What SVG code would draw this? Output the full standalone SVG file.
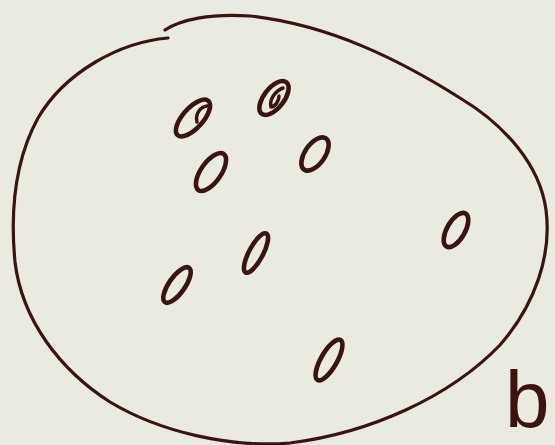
<svg xmlns="http://www.w3.org/2000/svg" width="555" height="445" viewBox="0 0 555 445">
<style>
.ln{fill:none;stroke:#3a1411;stroke-linecap:round;stroke-linejoin:round}
.big{stroke-width:3.2}
.dot{stroke-width:4.6}
.lbl{font-family:"Liberation Sans",Arial,sans-serif;font-size:80px;fill:#3a1411}
</style>
<rect x="0" y="0" width="555" height="445" fill="#ebeae1"/>
<g id="set">
<path class="ln big" d="M168,38 C120,42 65,72 38,118 C15,160 10,210 15,262 C22,320 60,370 110,402 C160,432 230,448 290,443 C370,433 450,397 500,345 C535,305 552,255 546,210 C540,165 505,125 460,98 C400,60 330,25 250,16 C210,13 180,20 165,30"/>
</g>
<g id="e1"><ellipse class="ln dot" cx="193" cy="118" rx="10" ry="23" transform="rotate(42 193 118)"/><path class="ln" stroke-width="3.5" d="M207,106 C200,107 195,114 197,122"/></g>
<g id="e2"><ellipse class="ln dot" cx="274" cy="98" rx="10" ry="20" transform="rotate(38 274 98)"/><path class="ln" stroke-width="3.5" d="M283,88 C275,91 269,100 271,107 C275,107 279,101 279,96"/></g>
<g id="e3"><ellipse class="ln dot" cx="211" cy="172" rx="10" ry="22" transform="rotate(35 211 172)"/></g>
<g id="e4"><ellipse class="ln dot" cx="315" cy="154" rx="10" ry="19" transform="rotate(35 315 154)"/></g>
<g id="e5"><ellipse class="ln dot" cx="456" cy="230" rx="9" ry="19" transform="rotate(30 456 230)"/></g>
<g id="e6"><ellipse class="ln dot" cx="256" cy="253" rx="7" ry="22" transform="rotate(28 256 253)"/></g>
<g id="e7"><ellipse class="ln dot" cx="177" cy="285" rx="8" ry="21" transform="rotate(35 177 285)"/></g>
<g id="e8"><ellipse class="ln dot" cx="329" cy="360" rx="8" ry="23" transform="rotate(30 329 360)"/></g>
<text class="lbl" x="505" y="427">b</text>
</svg>
